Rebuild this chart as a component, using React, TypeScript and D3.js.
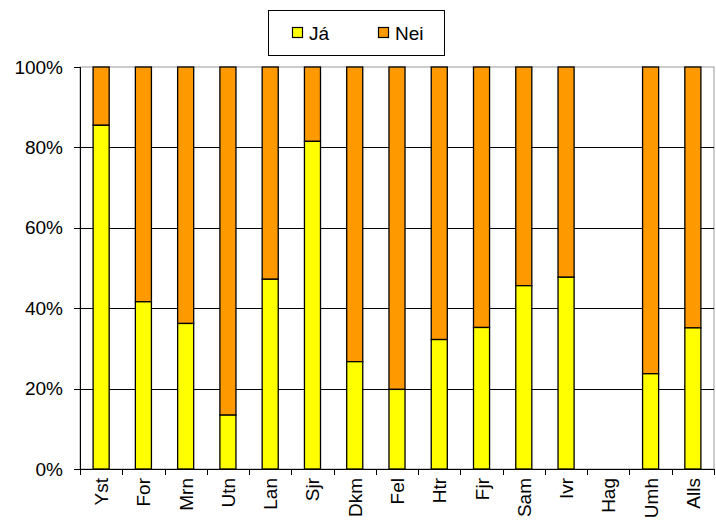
import React from "react";
import * as d3 from "d3";

const categories = ["Yst", "For", "Mrn", "Utn", "Lan", "Sjr", "Dkm", "Fel", "Htr", "Fjr", "Sam", "Ivr", "Hag", "Umh", "Alls"];
const jaValues: (number | null)[] = [85.5, 41.6, 36.2, 13.4, 47.2, 81.5, 26.7, 19.8, 32.2, 35.2, 45.6, 47.7, null, 23.7, 35.1];
const yTicks = [0, 20, 40, 60, 80, 100];
const seriesNames = ["Já", "Nei"];
const colors = ["#FFFF00", "#FF9900"];

export default function App() {
  const W = 716, H = 525;
  const left = 80, right = 714, top = 67, bottom = 469;
  const x = d3.scaleBand<string>().domain(categories).range([left, right]).paddingInner(0.62).paddingOuter(0.31);
  const xb = d3.scaleBand<string>().domain(categories).range([left, right]);
  const y = d3.scaleLinear().domain([0, 100]).range([bottom, top]);
  const font = "'Liberation Sans', Arial, sans-serif";
  const fs = 19;

  return (
    <svg width={W} height={H} style={{ position: "absolute", left: 0, top: 0 }} fontFamily={font}>
      <rect x={0} y={0} width={W} height={H} fill="#fff" />
      <rect x={left} y={top} width={right - left} height={bottom - top} fill="none" stroke="#999" strokeWidth={1} />
      {yTicks.filter(t => t > 0 && t < 100).map(t => (
        <line key={t} x1={left} x2={right} y1={Math.round(y(t)) + 0.5} y2={Math.round(y(t)) + 0.5} stroke="#000" strokeWidth={1} />
      ))}
      {categories.map((c, i) => {
        const v = jaValues[i];
        if (v == null) return null;
        const bx = x(c)!;
        const bw = x.bandwidth();
        return (
          <g key={c}>
            <rect x={bx} y={y(100)} width={bw} height={y(v) - y(100)} fill={colors[1]} stroke="#000" strokeWidth={1.3} />
            <rect x={bx} y={y(v)} width={bw} height={y(0) - y(v)} fill={colors[0]} stroke="#000" strokeWidth={1.3} />
          </g>
        );
      })}
      <line x1={left + 0.5} x2={left + 0.5} y1={top} y2={bottom} stroke="#000" strokeWidth={1} />
      {yTicks.map(t => (
        <g key={t}>
          <line x1={left - 6} x2={left} y1={Math.round(y(t)) + 0.5} y2={Math.round(y(t)) + 0.5} stroke="#000" />
          <text x={63} y={y(t)} dy="0.35em" textAnchor="end" fontSize={fs} fill="#000">{t}%</text>
        </g>
      ))}
      <line x1={left} x2={right} y1={bottom + 0.5} y2={bottom + 0.5} stroke="#000" strokeWidth={1} />
      {categories.map(c => (
        <line key={"t" + c} x1={Math.round(xb(c)!) + 0.5} x2={Math.round(xb(c)!) + 0.5} y1={bottom} y2={bottom + 6} stroke="#000" />
      ))}
      <line x1={right + 0.5} x2={right + 0.5} y1={bottom} y2={bottom + 6} stroke="#000" />
      {categories.map(c => {
        const cx = xb(c)! + xb.bandwidth() / 2;
        return (
          <text key={"l" + c} transform={`translate(${cx + 7},${bottom + 9}) rotate(-90)`} textAnchor="end" fontSize={fs} fill="#000">{c}</text>
        );
      })}
      <rect x={268.5} y={10.5} width={176} height={45} fill="#fff" stroke="#000" strokeWidth={1} />
      {seriesNames.map((s, i) => {
        const lx = i === 0 ? 292 : 378;
        return (
          <g key={s}>
            <rect x={lx + 0.5} y={27.5} width={10} height={10} fill={colors[i]} stroke="#000" strokeWidth={1.2} />
            <text x={lx + 17} y={33} dy="0.35em" fontSize={fs} fill="#000">{s}</text>
          </g>
        );
      })}
    </svg>
  );
}
